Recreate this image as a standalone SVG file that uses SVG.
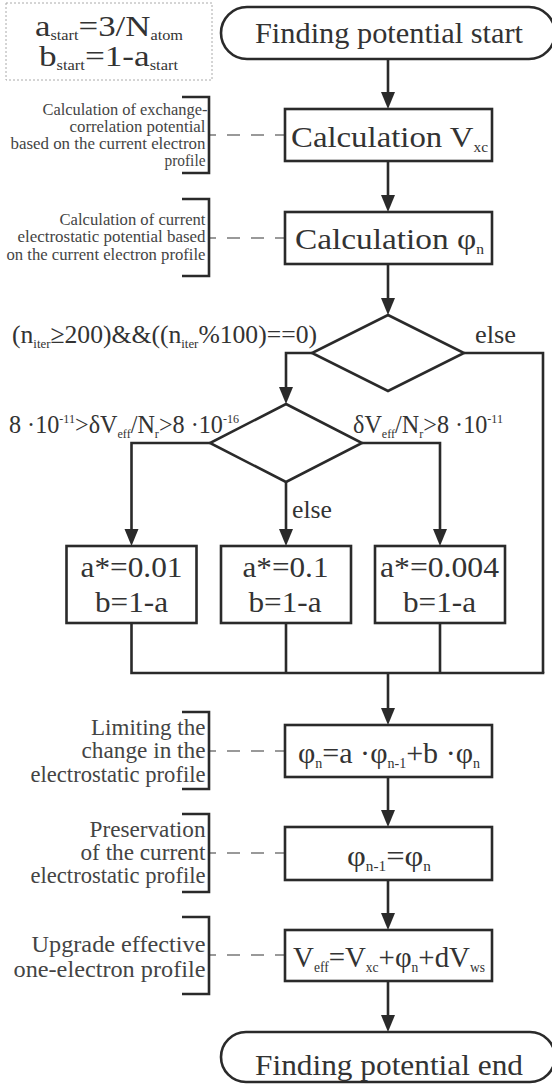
<svg xmlns="http://www.w3.org/2000/svg" width="552" height="1084" viewBox="0 0 552 1084" font-family="Liberation Serif, serif">
<defs>
<marker id="ah" markerUnits="userSpaceOnUse" markerWidth="18" markerHeight="16" refX="12" refY="7" orient="auto">
<path d="M0,0 L17,7 L0,14 Z" fill="#2a2a2a"/>
</marker>
</defs>
<style>
text{font-family:'Liberation Serif',serif;fill:#333;}
.m{font-size:30px;}
.lb{font-size:26px;}
.an{font-size:17px;fill:#444;text-anchor:end;}
.an2{font-size:23px;fill:#444;text-anchor:end;}
.an3{font-size:24px;fill:#444;text-anchor:end;}
.box{fill:#fff;stroke:#2a2a2a;stroke-width:2.6;}
.con{fill:none;stroke:#2a2a2a;stroke-width:2.6;}
.arr{marker-end:url(#ah);}
.dash{fill:none;stroke:#999;stroke-width:2;stroke-dasharray:13 11;stroke-dashoffset:6;}
.br{fill:none;stroke:#2a2a2a;stroke-width:2.6;}
</style>
<rect width="552" height="1084" fill="#fff"/>

<g id="init-values">
<rect x="6" y="3" width="206" height="77" fill="none" stroke="#aaa" stroke-width="1" stroke-dasharray="2 2"/>
<text class="m" x="35" y="36" textLength="148" lengthAdjust="spacingAndGlyphs">a<tspan font-size="14" dy="4">start</tspan><tspan dy="-4">=3/N</tspan><tspan font-size="14" dy="4">atom</tspan></text>
<text class="m" x="39" y="66" textLength="139" lengthAdjust="spacingAndGlyphs">b<tspan font-size="14" dy="4">start</tspan><tspan dy="-4">=1-a</tspan><tspan font-size="14" dy="4">start</tspan></text>
</g>

<g id="connectors">
<path class="con arr" d="M388,59 V104"/>
<path class="con arr" d="M388,161 V207"/>
<path class="con arr" d="M388,264 V310"/>
<path class="con arr" d="M312,353 H286 V399"/>
<path class="con" d="M464,353 H543 V673"/>
<path class="con arr" d="M210,443 H131.5 V541"/>
<path class="con arr" d="M286,482 V541"/>
<path class="con arr" d="M362,443 H440 V541"/>
<path class="con" d="M131.5,623 V673 M286,623 V673 M440,623 V673 M130.2,673 H544.3"/>
<path class="con arr" d="M388,673 V720"/>
<path class="con arr" d="M388,777 V822"/>
<path class="con arr" d="M388,880 V925"/>
<path class="con arr" d="M388,981 V1027"/>
<path class="dash" d="M209,135 H285 M209,238 H285 M209,751 H285 M209,853 H285 M209,955 H285"/>
</g>

<g id="start">
<rect class="box" x="221" y="7" width="334" height="52" rx="26"/>
<text class="m" x="255" y="43" font-size="29" textLength="268" lengthAdjust="spacingAndGlyphs">Finding potential start</text>
</g>

<g id="calc-vxc">
<rect class="box" x="285" y="109" width="207" height="52"/>
<text class="m" x="291" y="147" font-size="31" textLength="197" lengthAdjust="spacingAndGlyphs">Calculation V<tspan font-size="14" dy="5">xc</tspan></text>
</g>
<g id="note-vxc">
<path class="br" d="M182,97 H209 V173 H182"/>
<text class="an" x="207.5" y="115" textLength="165" lengthAdjust="spacingAndGlyphs">Calculation of exchange-</text>
<text class="an" x="205.5" y="132" textLength="136" lengthAdjust="spacingAndGlyphs">correlation potential</text>
<text class="an" x="205.5" y="149" textLength="195" lengthAdjust="spacingAndGlyphs">based on the current electron</text>
<text class="an" x="205.5" y="166" textLength="41" lengthAdjust="spacingAndGlyphs">profile</text>
</g>

<g id="calc-phi">
<rect class="box" x="285" y="212" width="207" height="52"/>
<text class="m" x="295" y="249" font-size="31" textLength="189" lengthAdjust="spacingAndGlyphs">Calculation φ<tspan font-size="14" dy="5">n</tspan></text>
</g>
<g id="note-phi">
<path class="br" d="M182,199 H209 V276 H182"/>
<text class="an" x="205.5" y="225" textLength="146" lengthAdjust="spacingAndGlyphs">Calculation of current</text>
<text class="an" x="205.5" y="242" textLength="188" lengthAdjust="spacingAndGlyphs">electrostatic potential based</text>
<text class="an" x="205.5" y="260" textLength="199" lengthAdjust="spacingAndGlyphs">on the current electron profile</text>
</g>

<g id="decision-iter">
<polygon class="box" points="388,315 464,353 388,391 312,353"/>
<text class="lb" x="12" y="343" textLength="305" lengthAdjust="spacingAndGlyphs">(n<tspan font-size="13" dy="5">iter</tspan><tspan dy="-5">≥200)&amp;&amp;((n</tspan><tspan font-size="13" dy="5">iter</tspan><tspan dy="-5">%100)==0)</tspan></text>
<text class="lb" x="475" y="343" textLength="41" lengthAdjust="spacingAndGlyphs">else</text>
</g>

<g id="decision-dv">
<polygon class="box" points="286,404 362,443 286,482 210,443"/>
<text class="lb" x="9" y="433" font-size="25" textLength="230" lengthAdjust="spacingAndGlyphs">8 ·10<tspan font-size="13" dy="-10">-11</tspan><tspan dy="10">&gt;δV</tspan><tspan font-size="13" dy="5">eff</tspan><tspan dy="-5">/N</tspan><tspan font-size="13" dy="5">r</tspan><tspan dy="-5">&gt;8 ·10</tspan><tspan font-size="13" dy="-10">-16</tspan></text>
<text class="lb" x="353" y="433" font-size="25" textLength="150" lengthAdjust="spacingAndGlyphs">δV<tspan font-size="13" dy="5">eff</tspan><tspan dy="-5">/N</tspan><tspan font-size="13" dy="5">r</tspan><tspan dy="-5">&gt;8 ·10</tspan><tspan font-size="13" dy="-10">-11</tspan></text>
<text class="lb" x="292" y="518" textLength="40" lengthAdjust="spacingAndGlyphs">else</text>
</g>

<g id="a-001">
<rect class="box" x="66.5" y="546" width="130" height="77"/>
<text class="m" x="80.5" y="577" font-size="31" textLength="102" lengthAdjust="spacingAndGlyphs">a*=0.01</text>
<text class="m" x="95" y="612" font-size="31" textLength="73" lengthAdjust="spacingAndGlyphs">b=1-a</text>
</g>
<g id="a-01">
<rect class="box" x="221" y="546" width="130" height="77"/>
<text class="m" x="242.5" y="577" font-size="31" textLength="86" lengthAdjust="spacingAndGlyphs">a*=0.1</text>
<text class="m" x="248.5" y="612" font-size="31" textLength="73" lengthAdjust="spacingAndGlyphs">b=1-a</text>
</g>
<g id="a-0004">
<rect class="box" x="375" y="546" width="130" height="77"/>
<text class="m" x="380" y="577" font-size="31" textLength="119" lengthAdjust="spacingAndGlyphs">a*=0.004</text>
<text class="m" x="403" y="612" font-size="31" textLength="73" lengthAdjust="spacingAndGlyphs">b=1-a</text>
</g>

<g id="limit">
<rect class="box" x="285" y="725" width="207" height="52"/>
<text class="m" x="298" y="763" font-size="31" textLength="182" lengthAdjust="spacingAndGlyphs">φ<tspan font-size="14" dy="5">n</tspan><tspan dy="-5">=a ·φ</tspan><tspan font-size="14" dy="5">n-1</tspan><tspan dy="-5">+b ·φ</tspan><tspan font-size="14" dy="5">n</tspan></text>
</g>
<g id="note-limit">
<path class="br" d="M182,712 H209 V789 H182"/>
<text class="an2" x="205.5" y="735" textLength="114.5" lengthAdjust="spacingAndGlyphs">Limiting the</text>
<text class="an2" x="205.5" y="758" textLength="124" lengthAdjust="spacingAndGlyphs">change in the</text>
<text class="an2" x="205.5" y="782" textLength="175" lengthAdjust="spacingAndGlyphs">electrostatic profile</text>
</g>

<g id="preserve">
<rect class="box" x="285" y="827" width="207" height="53"/>
<text class="m" x="347" y="866" font-size="31" textLength="84" lengthAdjust="spacingAndGlyphs">φ<tspan font-size="14" dy="5">n-1</tspan><tspan dy="-5">=φ</tspan><tspan font-size="14" dy="5">n</tspan></text>
</g>
<g id="note-preserve">
<path class="br" d="M182,814 H209 V892 H182"/>
<text class="an2" x="205.5" y="837" textLength="116" lengthAdjust="spacingAndGlyphs">Preservation</text>
<text class="an2" x="205.5" y="860" textLength="125" lengthAdjust="spacingAndGlyphs">of the current</text>
<text class="an2" x="205.5" y="883" textLength="175" lengthAdjust="spacingAndGlyphs">electrostatic profile</text>
</g>

<g id="veff">
<rect class="box" x="285" y="930" width="207" height="51"/>
<text class="m" x="293" y="967" textLength="192" lengthAdjust="spacingAndGlyphs">V<tspan font-size="14" dy="5">eff</tspan><tspan dy="-5">=V</tspan><tspan font-size="14" dy="5">xc</tspan><tspan dy="-5">+φ</tspan><tspan font-size="14" dy="5">n</tspan><tspan dy="-5">+dV</tspan><tspan font-size="14" dy="5">ws</tspan></text>
</g>
<g id="note-veff">
<path class="br" d="M182,917 H209 V994 H182"/>
<text class="an3" x="205.5" y="952" textLength="174" lengthAdjust="spacingAndGlyphs">Upgrade effective</text>
<text class="an3" x="205.5" y="977" textLength="192" lengthAdjust="spacingAndGlyphs">one-electron profile</text>
</g>

<g id="end">
<rect class="box" x="221" y="1032" width="334" height="50" rx="25"/>
<text class="m" x="255" y="1075" font-size="29" textLength="268" lengthAdjust="spacingAndGlyphs">Finding potential end</text>
</g>
</svg>
